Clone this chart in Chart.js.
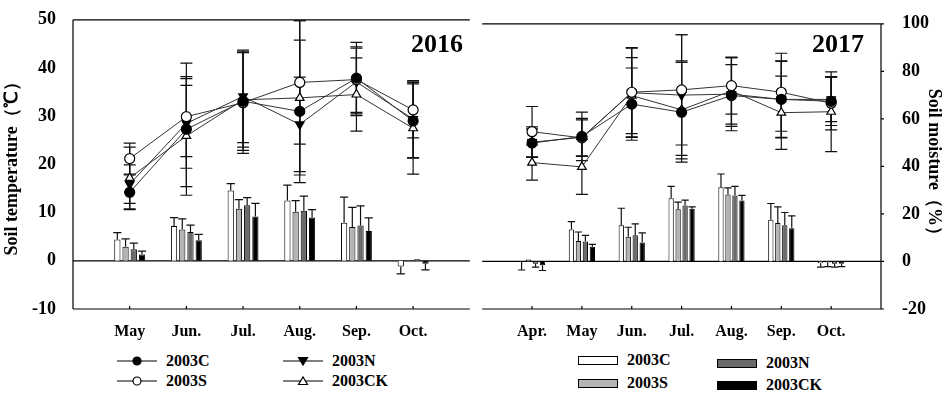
<!DOCTYPE html>
<html>
<head>
<meta charset="utf-8">
<script src="https://cdn.jsdelivr.net/npm/chart.js@4.4.1/dist/chart.umd.min.js"></script>
<style>
  body { margin: 0; background: #fff; width: 945px; height: 393px; position: relative; overflow: hidden;
         font-family: "Liberation Serif", "Times New Roman", serif; font-weight: bold; color: #000; }
  canvas { position: absolute; top: 0; }
  #c16 { left: 0; }
  #c17 { left: 476px; }
  .lg { position: absolute; font-size: 16px; line-height: 18px; white-space: nowrap; }
  .lg svg { position: absolute; }
</style>
</head>
<body>
<canvas id="c16" width="476" height="345"></canvas>
<canvas id="c17" width="469" height="345"></canvas>
<div id="legend"></div>
<script>
const series = ['2003C', '2003S', '2003N', '2003CK'];

// months on each panel
const months2016 = ['May', 'Jun.', 'Jul.', 'Aug.', 'Sep.', 'Oct.'];
const months2017 = ['Apr.', 'May', 'Jun.', 'Jul.', 'Aug.', 'Sep.', 'Oct.'];

// soil temperature (lines, left axis) and their error bars, in C/S/N/CK order
const temp2016 = [
  [14.2, 27.3, 33.1, 31.0, 37.9, 29.0],
  [21.2, 29.9, 32.8, 37.0, 37.6, 31.3],
  [15.9, 28.5, 34.1, 28.3, 37.1, 29.4],
  [17.2, 25.9, 33.4, 33.8, 34.5, 27.5]
];
const tempErr2016 = [
  [3.6, 13.7, 10.2, 14.8, 7.4, 7.7],
  [3.2, 8.3, 10.5, 12.8, 6.8, 5.8],
  [4.0, 9.3, 9.6, 9.8, 7.0, 8.0],
  [6.4, 10.5, 9.8, 16.0, 7.6, 9.5]
];
const temp2017 = [
  [24.9, 26.3, 33.1, 31.4, 34.9, 34.1, 33.7],
  [27.3, 26.0, 35.6, 36.1, 37.0, 35.6, 33.3],
  [25.1, 26.1, 35.5, 35.0, 35.2, 34.1, 34.1],
  [20.8, 19.9, 34.9, 31.9, 35.9, 31.3, 31.5]
];
const tempErr2017 = [
  [3.0, 5.1, 7.6, 10.5, 6.5, 8.1, 5.1],
  [5.3, 3.8, 9.4, 11.6, 6.0, 8.2, 5.6],
  [3.2, 4.0, 9.4, 12.7, 7.7, 8.0, 4.7],
  [3.7, 5.8, 8.0, 10.3, 7.0, 7.7, 8.4]
];

// soil moisture (bars, right axis) and their error bars
const moist2016 = [
  [8.8, 14.4, 29.2, 25.0, 15.8, -2.4],
  [5.8, 13.0, 21.6, 20.4, 14.0, 0.2],
  [4.8, 12.0, 23.0, 20.8, 14.6, 0.6],
  [2.6, 8.5, 18.4, 18.0, 12.4, -1.2]
];
const moistErr2016 = [
  [2.9, 3.5, 2.8, 6.4, 10.6, 3.0],
  [3.3, 4.4, 3.8, 4.6, 8.2, 0],
  [2.5, 2.8, 3.2, 6.0, 8.2, 0],
  [1.4, 2.5, 5.4, 3.2, 5.4, 2.6]
];
const moist2017 = [
  [-0.2, 13.4, 15.2, 26.6, 31.2, 17.6, -0.8],
  [0.8, 8.6, 10.4, 22.0, 28.2, 16.2, -0.4],
  [-1.0, 8.4, 11.0, 23.6, 27.8, 15.2, -1.0],
  [-1.6, 6.2, 8.0, 22.2, 25.6, 14.0, -1.0]
];
const moistErr2017 = [
  [3.4, 3.4, 7.2, 5.0, 5.6, 6.8, 1.6],
  [0, 3.8, 4.0, 3.0, 2.8, 6.8, 1.8],
  [1.4, 2.6, 4.8, 2.2, 3.8, 5.4, 1.4],
  [2.2, 1.0, 4.0, 0.8, 2.2, 5.2, 1.2]
];

const FONT = '"Liberation Serif", "Times New Roman", serif';
const markers = [
  { style: 'circle', fill: '#000', rot: 0 },
  { style: 'circle', fill: '#fff', rot: 0 },
  { style: 'triangle', fill: '#000', rot: 180 },
  { style: 'triangle', fill: '#fff', rot: 0 }
];
const barColors = ['#ffffff', '#b4b4b4', '#6a6a6a', '#000000'];

// pad one empty slot on each side of the month axis
const pad = a => [null, ...a, null];

const errorBars = {
  id: 'errorBars',
  beforeDatasetsDraw(chart) {
    const ctx = chart.ctx;
    chart.data.datasets.forEach((ds, di) => {
      const meta = chart.getDatasetMeta(di);
      const sc = chart.scales[meta.yAxisID];
      ctx.save();
      ctx.strokeStyle = '#111';
      ctx.lineWidth = 1.2;
      meta.data.forEach((el, i) => {
        const v = ds.data[i], e = ds.errors[i];
        if (v == null || !e) return;
        const x = el.x;
        const isBar = ds.type === 'bar';
        const lo = isBar ? v : v - e;
        const hi = isBar ? v + (v < 0 ? -e : e) : v + e;
        const cap = isBar ? el.width / 2 + 1 : 6;
        const y1 = sc.getPixelForValue(lo), y2 = sc.getPixelForValue(hi);
        ctx.beginPath();
        ctx.moveTo(x, y1); ctx.lineTo(x, y2);
        ctx.moveTo(x - cap, y2); ctx.lineTo(x + cap, y2);
        if (!isBar) { ctx.moveTo(x - cap, y1); ctx.lineTo(x + cap, y1); }
        ctx.stroke();
      });
      ctx.restore();
    });
  }
};

const frame = {
  id: 'frame',
  beforeDatasetsDraw(chart, args, opts) {
    const { ctx, chartArea: a } = chart;
    const y0 = chart.scales.y.getPixelForValue(0);
    ctx.save();
    ctx.strokeStyle = '#000';
    ctx.lineWidth = 1.2;
    ctx.beginPath();
    ctx.moveTo(a.left, a.top); ctx.lineTo(a.right, a.top);
    ctx.moveTo(a.left, a.bottom); ctx.lineTo(a.right, a.bottom);
    ctx.moveTo(a.left, y0); ctx.lineTo(a.right, y0);
    const xe = opts.side === 'left' ? a.left : a.right;
    ctx.moveTo(xe, a.top); ctx.lineTo(xe, a.bottom);
    const xs = chart.scales.x;
    for (let i = 1; i < xs.ticks.length - 1; i++) {
      const px = xs.getPixelForTick(i);
      ctx.moveTo(px, a.bottom); ctx.lineTo(px, a.bottom - 3);
    }
    if (opts.side === 'right') {
      chart.scales.y2.ticks.forEach((t, i) => {
        const py = chart.scales.y2.getPixelForTick(i);
        ctx.moveTo(a.right, py); ctx.lineTo(a.right + 3, py);
      });
    }
    ctx.stroke();
    ctx.fillStyle = '#000';
    ctx.font = 'bold 26px ' + FONT;
    ctx.textAlign = 'center';
    ctx.textBaseline = 'middle';
    ctx.fillText(opts.year, opts.yearX - (chart.canvas.offsetLeft), 45);
    ctx.restore();
  }
};

function makeDatasets(temp, tempErr, moist, moistErr) {
  const ds = [];
  series.forEach((name, k) => {
    ds.push({
      type: 'line', label: name, data: pad(temp[k]), errors: pad(tempErr[k]),
      yAxisID: 'y', order: 0,
      borderColor: '#333', borderWidth: 1,
      pointStyle: markers[k].style, rotation: markers[k].rot,
      pointRadius: 5, pointBackgroundColor: markers[k].fill,
      pointBorderColor: '#000', pointBorderWidth: 1.2
    });
  });
  series.forEach((name, k) => {
    ds.push({
      type: 'bar', label: name, data: pad(moist[k]), errors: pad(moistErr[k]),
      yAxisID: 'y2', order: 1,
      backgroundColor: barColors[k], borderColor: '#000', borderWidth: 1
    });
  });
  return ds;
}

function makeChart(id, months, data, side, year, yearX, catPct) {
  const tickFont = { family: FONT, size: 18, weight: 'bold' };
  return new Chart(document.getElementById(id), {
    data: { labels: pad(months).map(m => m || ''), datasets: data },
    options: {
      responsive: false,
      animation: false,
      events: [],
      layout: { padding: { top: 17, left: 0, right: 0, bottom: 0 } },
      datasets: { bar: { categoryPercentage: catPct, barPercentage: 0.76 } },
      plugins: { legend: { display: false }, tooltip: { enabled: false }, frame: { side, year, yearX } },
      scales: {
        x: {
          type: 'category', offset: false,
          grid: { display: false }, border: { display: false },
          ticks: { autoSkip: false, maxRotation: 0, padding: 5, color: '#000',
                   font: { family: FONT, size: 16, weight: 'bold' } },
          afterFit(s) { s.height = 36; }
        },
        y: {
          display: side === 'left', position: 'left', min: -10, max: 50,
          grid: { display: false }, border: { display: false },
          ticks: { stepSize: 10, padding: 9, color: '#000', font: tickFont },
          title: { display: true, text: 'Soil temperature（℃）', color: '#000', padding: 2,
                   font: { family: FONT, size: 18, weight: 'bold' } },
          afterFit(s) { s.width = side === 'left' ? 73 : 0; }
        },
        y2: {
          display: side === 'right', position: 'right', min: -20, max: 100,
          grid: { display: false }, border: { display: false },
          ticks: { stepSize: 20, padding: 13, color: '#000', font: tickFont },
          title: { display: true, text: 'Soil moisture（%）', color: '#000', padding: 1,
                   font: { family: FONT, size: 18, weight: 'bold' } },
          afterFit(s) { s.width = side === 'right' ? 64 : 0; }
        }
      }
    },
    plugins: [frame, errorBars]
  });
}

makeChart('c16', months2016, makeDatasets(temp2016, tempErr2016, moist2016, moistErr2016), 'left', '2016', 437, 0.58);
makeChart('c17', months2017, makeDatasets(temp2017, tempErr2017, moist2017, moistErr2017), 'right', '2017', 838, 0.56);

// legends below the panels
function markerSvg(k) {
  const m = markers[k];
  let shape;
  if (m.style === 'circle') shape = `<circle cx="20" cy="7" r="4" fill="${m.fill}" stroke="#000" stroke-width="1.2"/>`;
  else if (m.rot) shape = `<polygon points="15.5,3.5 24.5,3.5 20,11" fill="${m.fill}" stroke="#000" stroke-width="1.2"/>`;
  else shape = `<polygon points="15.5,10.5 24.5,10.5 20,3" fill="${m.fill}" stroke="#000" stroke-width="1.2"/>`;
  return `<svg width="40" height="14" style="left:0;top:2px"><line x1="0" y1="7" x2="40" y2="7" stroke="#000" stroke-width="1.2"/>${shape}</svg>`;
}
const lineLegendPos = [[117, 352], [117, 372], [283, 352], [283, 372]];
const barLegendPos = [[578, 351], [578, 374], [717, 354], [717, 376]];
let html = '';
series.forEach((name, k) => {
  const [lx, ly] = lineLegendPos[k];
  html += `<div class="lg" style="left:${lx}px;top:${ly}px">${markerSvg(k)}<span style="margin-left:49px">${name}</span></div>`;
  const [bx, by] = barLegendPos[k];
  html += `<div class="lg" style="left:${bx}px;top:${by}px"><svg width="40" height="9" style="left:0;top:5px"><rect x="0.5" y="0.5" width="39" height="8" fill="${barColors[k]}" stroke="#000"/></svg><span style="margin-left:49px">${name}</span></div>`;
});
document.getElementById('legend').innerHTML = html;
</script>
</body>
</html>
